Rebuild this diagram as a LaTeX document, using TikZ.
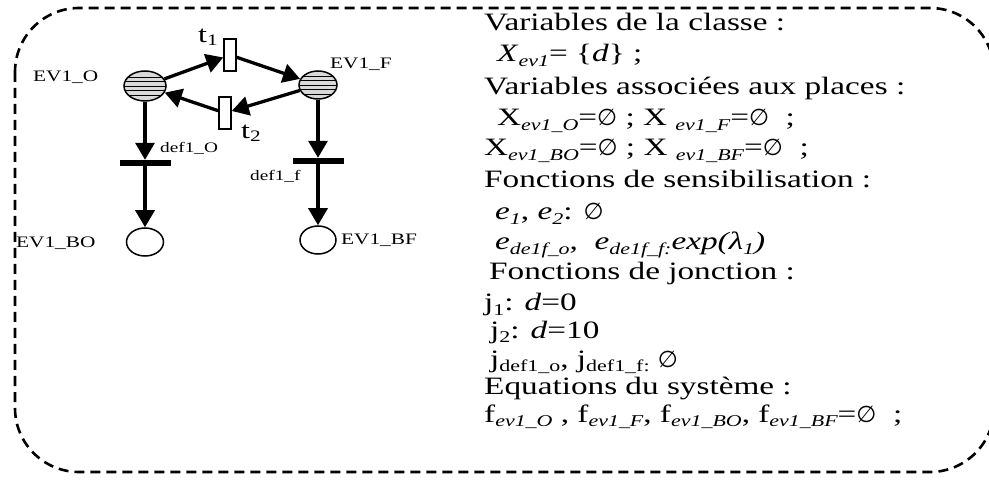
\documentclass[tikz,border=0pt]{standalone}
\usepackage{fontspec}
\setmainfont{Liberation Serif}[FakeStretch=1.33]
\newfontfamily\symf{DejaVu Sans}
\usetikzlibrary{shapes.geometric,arrows.meta}
\newcommand\sbi[1]{\raisebox{-4.5pt}{\fontsize{16.5}{16.5}\selectfont\itshape #1}}
\newcommand\sbu[1]{\raisebox{-4.5pt}{\fontsize{16.5}{16.5}\selectfont #1}}
\newcommand\vd{{\symf\fontsize{23}{23}\selectfont ∅}}
\tikzset{
  txt/.style={anchor=base west, inner sep=0pt, font=\fontsize{25}{30}\selectfont},
  lbl/.style={inner sep=0pt, font=\fontsize{16}{18}\selectfont},
  slbl/.style={inner sep=0pt, font=\fontsize{14.5}{16}\selectfont},
  tlbl/.style={inner sep=0pt, font=\fontsize{24}{26}\selectfont},
  place/.style={ellipse, draw, line width=1.5pt, inner sep=0pt, fill=white},
  marked/.style={place, fill=gray!30, path picture={
      \foreach \dy in {-9,-4.5,0,4.5,9}
        \draw[black, line width=0.9pt] ([yshift=\dy pt]path picture bounding box.west) -- ([yshift=\dy pt]path picture bounding box.east);}},
  trans/.style={rectangle, draw, line width=1.5pt, fill=white, inner sep=0pt, minimum width=12pt, minimum height=32pt},
  bar/.style={rectangle, fill=black, inner sep=0pt, minimum width=51pt, minimum height=6pt},
  arr/.style={line width=3.3pt, -{Triangle[length=17pt,width=19pt]}},
  frame/.style={line width=2.6pt, dash pattern=on 10pt off 6pt, rounded corners=64pt}
}
\begin{document}
\begin{tikzpicture}[x=1pt,y=-1pt]
\useasboundingbox (0,0) rectangle (989,481);
\draw[frame] (15,8) rectangle (994,472);

% Petri net
\node[marked, minimum width=42pt, minimum height=30pt] (O) at (145,86) {};
\node[marked, minimum width=38pt, minimum height=28pt] (F) at (318,85) {};
\node[trans] (t1) at (230,55) {};
\node[trans] (t2) at (225,113) {};
\node[bar] (bO) at (145,163) {};
\node[bar] (bF) at (318,161) {};
\node[place, minimum width=37pt, minimum height=28pt] (BO) at (145,242) {};
\node[place, minimum width=36pt, minimum height=28pt] (BF) at (318,240) {};

\draw[arr] (O) -- (t1);
\draw[arr] (t1) -- (F);
\draw[arr] (F) -- (t2);
\draw[arr] (t2) -- (O);
\draw[arr] (O) -- (bO);
\draw[arr] (bO) -- (BO);
\draw[arr] (F) -- (bF);
\draw[arr] (bF) -- (BF);

\node[tlbl] (lt1) at (208,37) {t\raisebox{-3pt}{\fontsize{16}{16}\selectfont 1}};
\node[tlbl] (lt2) at (251,133) {t\raisebox{-3pt}{\fontsize{16}{16}\selectfont 2}};
\node[lbl, anchor=west] (lO) at (33,77) {EV1\_O};
\node[lbl, anchor=west] (lF) at (330,64) {EV1\_F};
\node[slbl, anchor=west] (ldO) at (160,148) {def1\_O};
\node[slbl, anchor=west] (ldF) at (250,176) {def1\_f};
\node[lbl, anchor=west] (lBO) at (16,243) {EV1\_BO};
\node[lbl, anchor=west] (lBF) at (341,240) {EV1\_BF};

% text block
\node[txt] (l1) at (484,31) {Variables de la classe :};
\node[txt] (l2) at (497,62) {\textit{X}\sbi{ev1}= \{\textit{d}\} ;};
\node[txt] (l3) at (484,95) {Variables associées aux places :};
\node[txt] (l4) at (497,126) {X\sbi{ev1\_O}=\vd{} ; X \sbi{ev1\_F}=\vd{}\ \ ;};
\node[txt] (l5) at (484,156) {X\sbi{ev1\_BO}=\vd{} ; X \sbi{ev1\_BF}=\vd{}\ \ ;};
\node[txt] (l6) at (484,188) {Fonctions de sensibilisation :};
\node[txt] (l7) at (495,220) {\textit{e}\sbi{1}, \textit{e}\sbi{2}: \vd};
\node[txt] (l8) at (495,250) {\textit{e}\sbi{de1f\_o}, \ \textit{e}\sbi{de1f\_f:}\textit{exp(λ\sbi{1})}};
\node[txt] (l9) at (489,280) {Fonctions de jonction :};
\node[txt] (l10) at (484,311) {j\sbu{1}: \textit{d}=0};
\node[txt] (l11) at (490,338) {j\sbu{2}: \textit{d}=10};
\node[txt] (l12) at (490,367) {j\sbu{def1\_o}, j\sbu{def1\_f:} \vd};
\node[txt] (l13) at (484,394) {Equations du système :};
\node[txt] (l14) at (484,422) {f\sbi{ev1\_O} , f\sbi{ev1\_F}, f\sbi{ev1\_BO}, f\sbi{ev1\_BF}=\vd{}\ \ ;};
\end{tikzpicture}
\end{document}
